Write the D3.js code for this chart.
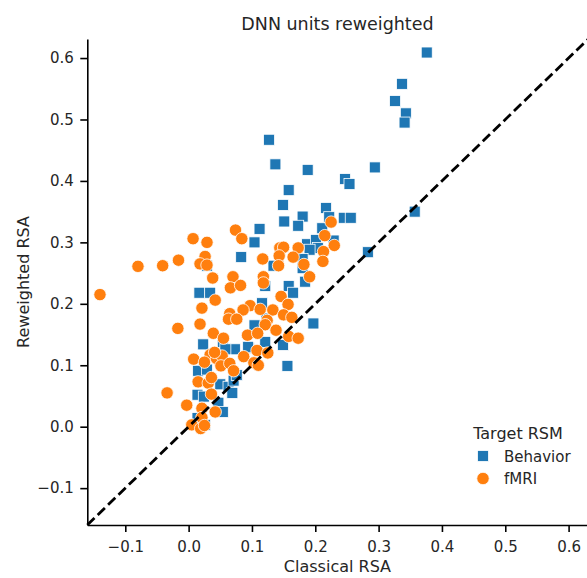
<!DOCTYPE html>
<html>
<head>
<meta charset="utf-8">
<script src="https://cdn.jsdelivr.net/npm/d3@7"></script>
<style>
  html, body { margin: 0; padding: 0; background: #fff; }
  svg { display: block; font-family: "DejaVu Sans", sans-serif; }
</style>
</head>
<body>
<svg id="chart" width="587" height="578"></svg>
<script>
// ---- data ----
const titleText = "DNN units reweighted";
const xLabel = "Classical RSA";
const yLabel = "Reweighted RSA";
const legendTitle = "Target RSM";
const seriesNames = ["Behavior", "fMRI"];
const seriesColors = ["#1f77b4", "#ff7f0e"];
const xTicks = [-0.1, 0.0, 0.1, 0.2, 0.3, 0.4, 0.5, 0.6];
const yTicks = [-0.1, 0.0, 0.1, 0.2, 0.3, 0.4, 0.5, 0.6];
const xDomain = [-0.16, 0.63];
const yDomain = [-0.16, 0.631];

const behaviorX = [0.376,0.337,0.326,0.343,0.341,0.294,0.247,0.254,0.217,0.222,0.245,0.256,0.211,0.229,0.357,0.283,
  0.127,0.137,0.188,0.158,0.149,0.151,0.180,0.173,0.112,0.104,0.187,0.201,0.204,0.191,0.083,0.029,0.134,0.180,0.180,
  0.121,0.158,0.165,0.184,0.017,0.034,0.116,0.123,0.197,0.104,0.023,0.054,0.073,0.095,0.149,0.121,0.015,0.029,0.050,
  0.063,0.071,0.069,0.014,0.024,0.047,0.054,0.014,0.026,0.076,0.058,0.156,0.094];
const behaviorY = [0.609,0.558,0.530,0.510,0.495,0.422,0.403,0.395,0.356,0.341,0.340,0.340,0.323,0.303,0.350,0.284,
  0.467,0.427,0.418,0.385,0.361,0.334,0.342,0.327,0.322,0.300,0.297,0.304,0.291,0.288,0.276,0.262,0.262,0.273,0.258,
  0.229,0.229,0.218,0.236,0.218,0.218,0.201,0.176,0.168,0.165,0.134,0.138,0.126,0.128,0.133,0.138,0.091,0.093,0.069,
  0.065,0.075,0.055,0.052,0.049,0.039,0.024,0.014,0.003,0.084,0.126,0.099,0.130];

const fmriX = [0.225,0.215,0.230,0.213,0.212,0.074,0.084,0.007,0.029,0.144,0.150,0.173,0.143,0.165,0.117,-0.016,
  -0.041,-0.080,-0.140,0.026,0.018,0.029,0.142,0.182,0.038,0.070,0.066,0.082,0.118,0.118,0.191,0.042,0.021,0.146,
  0.157,0.097,0.086,0.113,0.133,0.065,0.063,0.076,0.150,0.163,0.124,0.121,-0.017,0.018,0.039,0.055,0.093,0.109,
  0.138,0.158,0.173,0.008,0.034,0.044,0.053,0.087,0.108,0.125,0.025,0.041,0.051,0.065,0.071,0.015,0.031,0.036,
  0.036,-0.034,-0.003,0.021,0.042,0.021,0.005,0.019,0.025,0.103,0.110];
const fmriY = [0.333,0.311,0.295,0.285,0.269,0.320,0.306,0.306,0.300,0.291,0.292,0.291,0.278,0.276,0.273,0.271,
  0.262,0.261,0.215,0.277,0.265,0.263,0.262,0.264,0.242,0.244,0.226,0.230,0.244,0.234,0.244,0.206,0.193,0.212,
  0.199,0.197,0.190,0.191,0.190,0.184,0.175,0.175,0.182,0.178,0.173,0.166,0.160,0.167,0.152,0.144,0.149,0.152,
  0.157,0.147,0.144,0.110,0.117,0.111,0.115,0.114,0.124,0.120,0.105,0.121,0.099,0.103,0.091,0.073,0.071,0.080,
  0.053,0.055,0.035,0.030,0.024,0.015,0.003,-0.003,0.002,0.104,0.100];

// ---- drawing ----
(function () {
const svg = d3.select("#chart");
const mL = 87.3, mR = 587.6, mT = 39, mB = 525;
const x = d3.scaleLinear().domain(xDomain).range([mL, mR]);
const y = d3.scaleLinear().domain(yDomain).range([mB, mT]);
const fmt = d3.format(".1f");

// axes
const xAxis = svg.append("g").attr("transform", `translate(0,${mB})`)
  .call(d3.axisBottom(x).tickValues(xTicks).tickFormat(fmt).tickSize(7).tickSizeOuter(0).tickPadding(9));
const yAxis = svg.append("g").attr("transform", `translate(${mL},0)`)
  .call(d3.axisLeft(y).tickValues(yTicks).tickFormat(fmt).tickSize(7).tickSizeOuter(0).tickPadding(6.5));
[xAxis, yAxis].forEach(g => {
  g.select(".domain").attr("stroke", "#000").attr("stroke-width", 1.6);
  g.selectAll(".tick line").attr("stroke", "#000").attr("stroke-width", 1.6);
  g.selectAll(".tick text").attr("fill", "#262626").style("font-size", "15px")
    .style("font-family", "'DejaVu Sans', sans-serif");
});

const behavior = behaviorX.map((v, i) => ({x: v, y: behaviorY[i]}));
const fmri = fmriX.map((v, i) => ({x: v, y: fmriY[i]}));

const sq = 11;
svg.append("g").selectAll("rect").data(behavior).join("rect")
  .attr("x", d => x(d.x) - sq / 2).attr("y", d => y(d.y) - sq / 2)
  .attr("width", sq).attr("height", sq)
  .attr("fill", seriesColors[0]).attr("stroke", "#fff").attr("stroke-width", 0.8);

svg.append("g").selectAll("circle").data(fmri).join("circle")
  .attr("cx", d => x(d.x)).attr("cy", d => y(d.y)).attr("r", 6.2)
  .attr("fill", seriesColors[1]).attr("stroke", "#fff").attr("stroke-width", 0.8);

// identity line
svg.append("line")
  .attr("x1", x(xDomain[0])).attr("y1", y(xDomain[0]))
  .attr("x2", x(xDomain[1])).attr("y2", y(xDomain[1]))
  .attr("stroke", "#000").attr("stroke-width", 2.8).attr("stroke-dasharray", "10,4.5");

// title and labels
svg.append("text").attr("x", (mL + mR) / 2).attr("y", 30).attr("text-anchor", "middle")
  .attr("fill", "#262626").style("font-size", "17.5px").text(titleText);
svg.append("text").attr("x", (mL + mR) / 2).attr("y", 572).attr("text-anchor", "middle")
  .attr("fill", "#262626").style("font-size", "16px").text(xLabel);
svg.append("text").attr("transform", `translate(29,${(mT + mB) / 2}) rotate(-90)`)
  .attr("text-anchor", "middle").attr("fill", "#262626").style("font-size", "16px").text(yLabel);

// legend
const lg = svg.append("g");
lg.append("text").attr("x", 518).attr("y", 439).attr("text-anchor", "middle")
  .attr("fill", "#262626").style("font-size", "16px").text(legendTitle);
const rows = [456, 478.5];
lg.append("rect").attr("x", 483 - sq / 2).attr("y", rows[0] - sq / 2).attr("width", sq).attr("height", sq)
  .attr("fill", seriesColors[0]).attr("stroke", "#fff").attr("stroke-width", 0.8);
lg.append("circle").attr("cx", 483).attr("cy", rows[1]).attr("r", 6.2)
  .attr("fill", seriesColors[1]).attr("stroke", "#fff").attr("stroke-width", 0.8);
seriesNames.forEach((n, i) => {
  lg.append("text").attr("x", 504).attr("y", rows[i] + 5.5).attr("fill", "#262626")
    .style("font-size", "15px").text(n);
});
})();
</script>
</body>
</html>
